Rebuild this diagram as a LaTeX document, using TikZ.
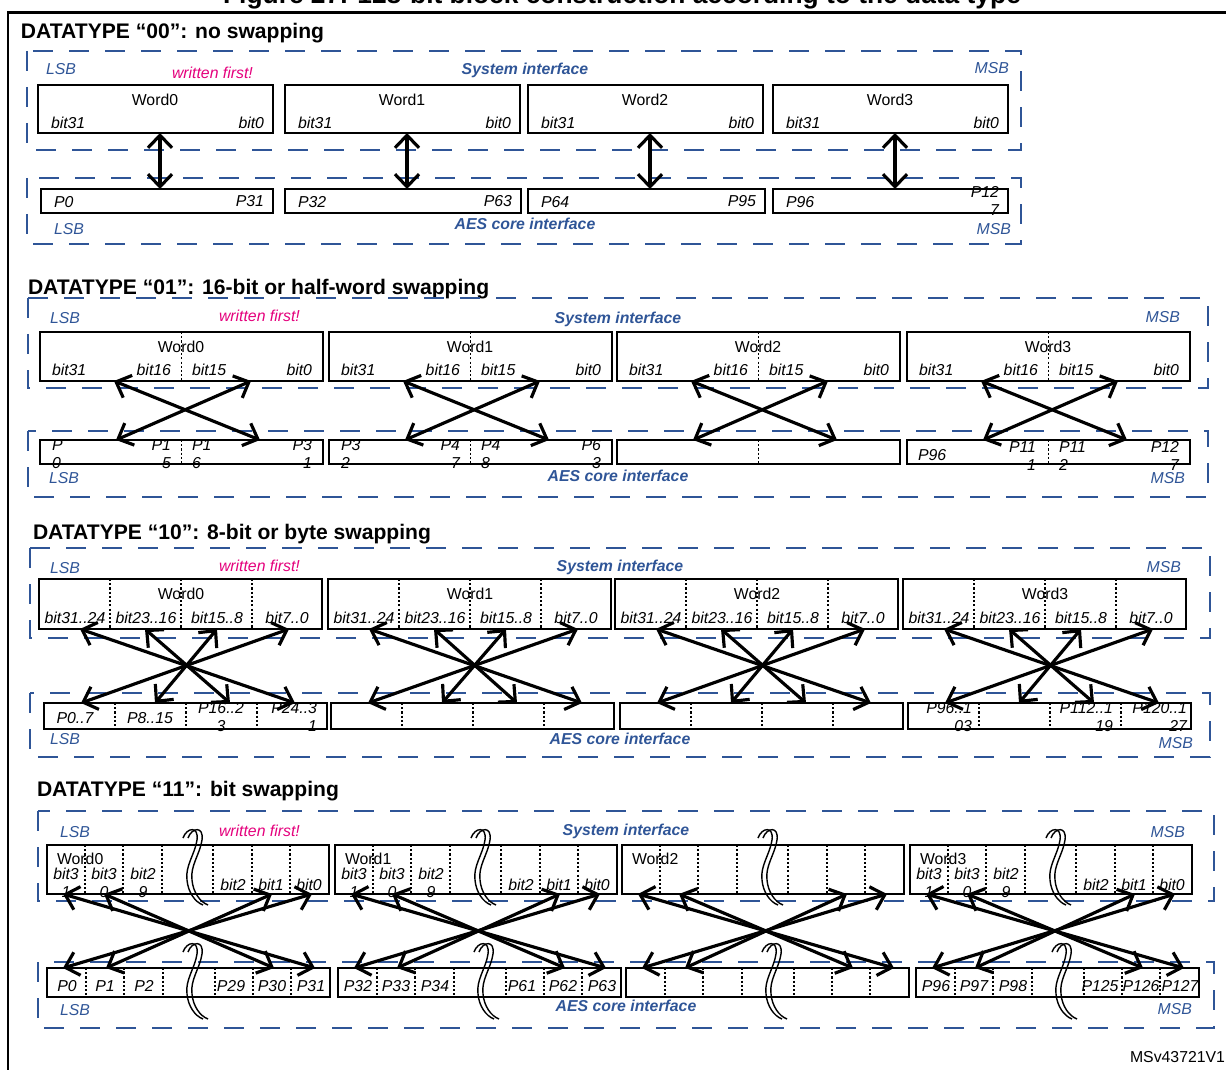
\documentclass[tikz,border=0pt]{standalone}
\usepackage{fontspec}
\setmainfont{Liberation Sans}
\usetikzlibrary{arrows.meta,calc}
\definecolor{ifblue}{HTML}{2F5597}
\definecolor{wfpink}{HTML}{E4007C}
\newcommand{\pu}{0.2mm}

\begin{document}
\begin{tikzpicture}[
  x=0.2mm, y=-0.2mm,
  every node/.style={inner sep=0pt, outer sep=0pt},
  lbl/.style={font=\fontsize{9}{10}\selectfont},
  bits/.style={font=\fontsize{9}{10}\selectfont\itshape},
  sidel/.style={text=ifblue, font=\fontsize{9}{10}\selectfont\itshape},
  ifname/.style={text=ifblue, font=\fontsize{9}{10}\selectfont\bfseries\itshape},
  first/.style={text=wfpink, font=\fontsize{9}{10}\selectfont\itshape},
  sect/.style={font=\fontsize{12}{14}\selectfont\bfseries, anchor=base west},
  wbox/.style={draw, line width=1.1pt, anchor=north west, minimum width=283*\pu},
  ifbox/.style={draw=ifblue, line width=1.2pt, dash pattern=on 4mm off 3.2mm},
  cut/.style={dash pattern=on 1.2pt off 1.2pt, line width=0.9pt},
  ar/.style={{Straight Barb[length=2.5mm,width=4.8mm]}-{Straight Barb[length=2.5mm,width=4.8mm]}, line width=1.8pt},
  brk/.pic={\foreach \d in {0,5}
    \draw[line width=0.8pt] (\d,8) .. controls (\d+4,-3) and (\d+16,-4) .. (\d+14,10)
      .. controls (\d+12,24) and (\d+2,36) .. (\d+4,50)
      .. controls (\d+5,62) and (\d+12,72) .. (\d+20,75);}
]
\useasboundingbox (0,0) rectangle (1226,1070);
\node[font=\fontsize{15}{18}\selectfont\bfseries, anchor=base] (cap) at (622,4)
  {Figure 27. 128-bit block construction according to the data type};
\draw[line width=1.7pt] (8,1100) -- (8,13) -- (1260,13);

% DATATYPE 00
\node[sect] (t1) at (21,39) {DATATYPE “00”: no swapping};
\draw[ifbox] (27,51) rectangle (1021,150);
\draw[ifbox] (27,178) rectangle (1021,244);
\node[sidel, anchor=west] (lsb1) at (46,69) {LSB};
\node[first, anchor=west] (wf1) at (172,73) {written first!};
\node[ifname] (si1) at (525,70) {System interface};
\node[sidel, anchor=east] (msb1) at (1009,68) {MSB};
\node[sidel, anchor=west] (lsb1b) at (54,229) {LSB};
\node[ifname] (ae1) at (525,224) {AES core interface};
\node[sidel, anchor=east] (msb1b) at (1011,229) {MSB};
\foreach \i/\x/\pl/\pr/\la/\lb in {0/38/41/273/P0/P31, 1/285/285/521/P32/P63,
    2/528/528/765/P64/P95, 3/773/773/1008/P96/{P12\\7}} {
  \node[wbox, minimum width=235*\pu, minimum height=48*\pu] (w1-\i) at (\x,85) {};
  \node[lbl] (n1-\i) at (\x+117,100) {Word\i};
  \node[bits, anchor=west] (h1-\i) at (\x+13,123) {bit31};
  \node[bits, anchor=east] (l1-\i) at (\x+226,123) {bit0};
  \node[wbox, minimum width=(\pr-\pl)*\pu, minimum height=24*\pu] (p1-\i) at (\pl,189) {};
  \node[bits, anchor=west] (pa1-\i) at (\pl+13,202) {\la};
  \node[bits, anchor=east, align=right] (pb1-\i) at (\pr-9,201) {\lb};
  \coordinate (c1-\i) at ($(w1-\i.south west)+(122,0)$);
  \draw[ar] (c1-\i) -- (c1-\i |- p1-\i.north);
}

% DATATYPE 01
\node[sect] (t2) at (28,295) {DATATYPE “01”: 16-bit or half-word swapping};
\draw[ifbox] (28,298) rectangle (1208,388);
\draw[ifbox] (28,431) rectangle (1208,497);
\node[sidel, anchor=west] (lsb2) at (50,318) {LSB};
\node[first, anchor=west] (wf2) at (219,316) {written first!};
\node[ifname] (si2) at (618,319) {System interface};
\node[sidel, anchor=east] (msb2) at (1180,317) {MSB};
\node[sidel, anchor=west] (lsb2b) at (49,478) {LSB};
\node[ifname] (ae2) at (618,476) {AES core interface};
\node[sidel, anchor=east] (msb2b) at (1185,478) {MSB};
\foreach \i/\x in {0/40, 1/329, 2/617, 3/907} {
  \node[wbox, minimum height=49*\pu] (w2-\i) at (\x,332) {};
  \draw[cut] (w2-\i.north) -- (w2-\i.south);
  \node[lbl] (n2-\i) at (\x+141,347) {Word\i};
  \node[bits, anchor=west] (h2-\i) at (\x+12,370) {bit31};
  \node[bits, anchor=east] (m2-\i) at (\x+131,370) {bit16};
  \node[bits, anchor=west] (k2-\i) at (\x+152,370) {bit15};
  \node[bits, anchor=east] (l2-\i) at (\x+272,370) {bit0};
  \node[wbox, minimum height=24*\pu] (p2-\i) at (\x,440) {};
  \draw[cut] (p2-\i.north) -- (p2-\i.south);
  \draw[ar] ($(w2-\i.south west)+(74,0)$) -- ($(p2-\i.north west)+(220,0)$);
  \draw[ar] ($(w2-\i.south west)+(211,0)$) -- ($(p2-\i.north west)+(76,0)$);
}
\foreach \i/\x/\ta/\tb/\tc/\td in {0/40/{P\\0}/{P1\\5}/{P1\\6}/{P3\\1},
    1/329/{P3\\2}/{P4\\7}/{P4\\8}/{P6\\3}} {
  \node[bits, anchor=west, align=left] (q2-\i-1) at (\x+12,454) {\ta};
  \node[bits, anchor=east, align=right] (q2-\i-2) at (\x+131,454) {\tb};
  \node[bits, anchor=west, align=left] (q2-\i-3) at (\x+152,454) {\tc};
  \node[bits, anchor=east, align=right] (q2-\i-4) at (\x+272,454) {\td};
}
\node[bits, anchor=west] (q2-3-1) at (918,455) {P96};
\node[bits, anchor=east, align=right] (q2-3-2) at (1036,456) {P11\\1};
\node[bits, anchor=west, align=left] (q2-3-3) at (1059,456) {P11\\2};
\node[bits, anchor=east, align=right] (q2-3-4) at (1179,456) {P12\\7};

% DATATYPE 10
\node[sect] (t3) at (33,539) {DATATYPE “10”: 8-bit or byte swapping};
\draw[ifbox] (30,548) rectangle (1210,638);
\draw[ifbox] (30,693) rectangle (1210,757);
\node[sidel, anchor=west] (lsb3) at (50,568) {LSB};
\node[first, anchor=west] (wf3) at (219,566) {written first!};
\node[ifname] (si3) at (620,567) {System interface};
\node[sidel, anchor=east] (msb3) at (1181,567) {MSB};
\node[sidel, anchor=west] (lsb3b) at (50,739) {LSB};
\node[ifname] (ae3) at (620,739) {AES core interface};
\node[sidel, anchor=east] (msb3b) at (1193,743) {MSB};
\foreach \i/\x/\p in {0/39/44, 1/328/331, 2/615/620, 3/903/908} {
  \node[wbox, minimum height=50*\pu] (w3-\i) at (\x,579) {};
  \node[wbox, minimum height=26*\pu] (p3-\i) at (\p,703) {};
  \foreach \k in {71,142,213} {
    \draw[cut] ($(w3-\i.north west)+(\k,0)$) -- ($(w3-\i.south west)+(\k,0)$);
    \draw[cut] ($(p3-\i.north west)+(\k,0)$) -- ($(p3-\i.south west)+(\k,0)$);
  }
  \node[lbl] (n3-\i) at (\x+142,594) {Word\i};
  \node[bits] (b3-\i-1) at (\x+36,618) {bit31..24};
  \node[bits] (b3-\i-2) at (\x+107,618) {bit23..16};
  \node[bits] (b3-\i-3) at (\x+178,618) {bit15..8};
  \node[bits] (b3-\i-4) at (\x+248,618) {bit7..0};
  \foreach \u/\l in {41/251, 106/186, 178/111, 250/37}
    \draw[ar] ($(w3-\i.south west)+(\u,0)$) -- ($(p3-\i.north west)+(\l,0)$);
}
\node[bits] (q3-0-1) at (75,718) {P0..7};
\node[bits] (q3-0-2) at (150,718) {P8..15};
\node[bits, align=center] (q3-0-3) at (221,717) {P16..2\\3};
\node[bits, anchor=east, align=right] (q3-0-4) at (317,717) {P24..3\\1};
\node[bits, anchor=east, align=right] (q3-3-1) at (972,717) {P96..1\\03};
\node[bits, anchor=east, align=right] (q3-3-3) at (1113,717) {P112..1\\19};
\node[bits, anchor=east, align=right] (q3-3-4) at (1187,717) {P120..1\\27};

% DATATYPE 11
\node[sect] (t4) at (37,796) {DATATYPE “11”: bit swapping};
\draw[ifbox] (38,811) rectangle (1214,901);
\draw[ifbox] (38,962) rectangle (1214,1028);
\node[sidel, anchor=west] (lsb4) at (60,832) {LSB};
\node[first, anchor=west] (wf4) at (219,831) {written first!};
\node[ifname] (si4) at (626,831) {System interface};
\node[sidel, anchor=east] (msb4) at (1185,832) {MSB};
\node[sidel, anchor=west] (lsb4b) at (60,1010) {LSB};
\node[ifname] (ae4) at (626,1006) {AES core interface};
\node[sidel, anchor=east] (msb4b) at (1192,1009) {MSB};
\foreach \i/\x/\p in {0/47/47, 1/335/338, 2/622/626, 3/910/916} {
  \node[wbox, minimum width=282*\pu, minimum height=49*\pu] (w4-\i) at (\x,845) {};
  \node[wbox, minimum height=29*\pu] (p4-\i) at (\p,968) {};
  \foreach \k in {38,76,115,166,205,243}
    \draw[cut] ($(w4-\i.north west)+(\k,0)$) -- ($(w4-\i.south west)+(\k,0)$);
  \foreach \k in {39,77,116,168,206,244}
    \draw[cut] ($(p4-\i.north west)+(\k,0)$) -- ($(p4-\i.south west)+(\k,0)$);
  \node[lbl, anchor=west] (n4-\i) at (\x+10,859) {Word\i};
  \pic at (\x+136,830) {brk};
  \pic at (\p+136,944) {brk};
  \foreach \u/\l in {16/268, 57/227, 225/59, 265/16}
    \draw[ar] ($(w4-\i.south west)+(\u,0)$) -- ($(p4-\i.north west)+(\l,0)$);
}
\foreach \i/\x/\p/\ta/\tb/\tc/\td/\te/\tf in {0/47/47/P0/P1/P2/P29/P30/P31,
    1/335/338/P32/P33/P34/P61/P62/P63, 3/910/916/P96/P97/P98/P125/P126/P127} {
  \node[bits, align=center] (b4-\i-1) at (\x+19,883) {bit3\\1};
  \node[bits, align=center] (b4-\i-2) at (\x+57,883) {bit3\\0};
  \node[bits, align=center] (b4-\i-3) at (\x+96,883) {bit2\\9};
  \node[bits] (b4-\i-4) at (\x+186,885) {bit2};
  \node[bits] (b4-\i-5) at (\x+224,885) {bit1};
  \node[bits] (b4-\i-6) at (\x+262,885) {bit0};
  \node[bits] (q4-\i-1) at (\p+20,986) {\ta};
  \node[bits] (q4-\i-2) at (\p+58,986) {\tb};
  \node[bits] (q4-\i-3) at (\p+97,986) {\tc};
  \node[bits] (q4-\i-4) at (\p+184,986) {\td};
  \node[bits] (q4-\i-5) at (\p+225,986) {\te};
  \node[bits] (q4-\i-6) at (\p+264,986) {\tf};
}
\node[lbl, anchor=east] (ref) at (1225,1057) {MSv43721V1};
\end{tikzpicture}
\end{document}
